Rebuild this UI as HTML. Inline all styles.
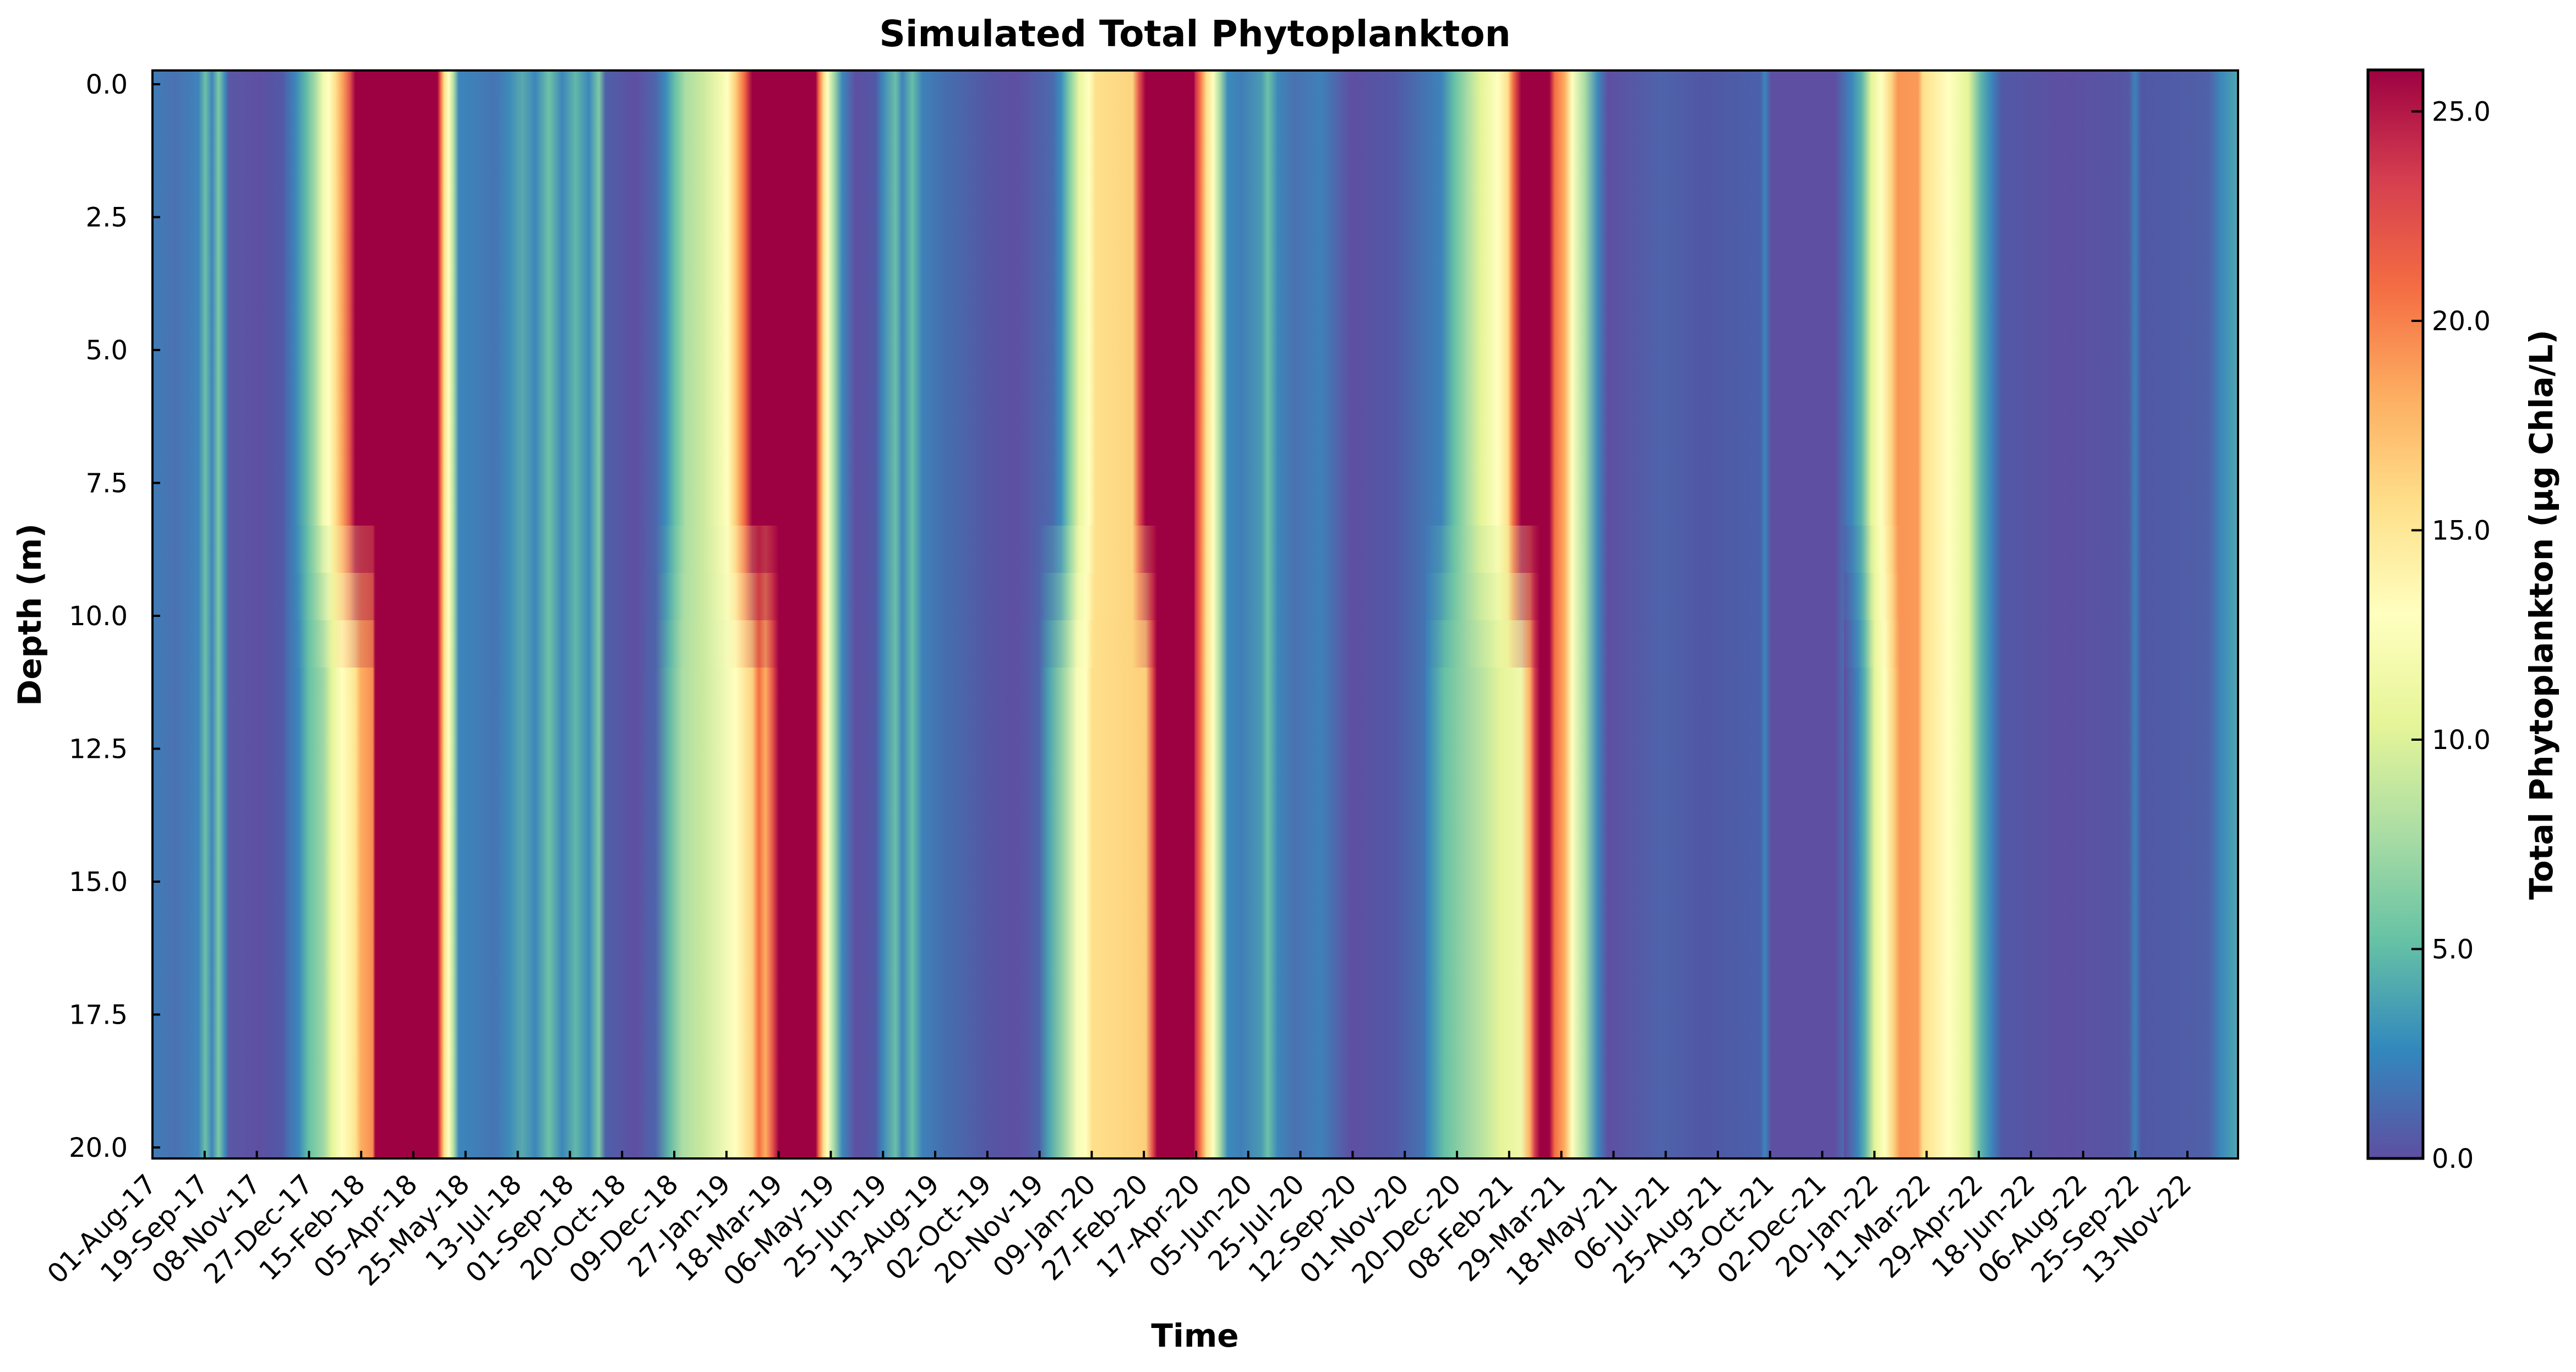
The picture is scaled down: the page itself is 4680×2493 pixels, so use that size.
<!DOCTYPE html>
<html><head><meta charset="utf-8">
<style>html,body{margin:0;padding:0;background:#fff;}svg{display:block;}text{font-family:"DejaVu Sans","Liberation Sans",sans-serif;fill:#000;}</style>
</head><body>
<svg width="4680" height="2493" viewBox="0 0 4680 2493" xmlns="http://www.w3.org/2000/svg">
<defs>
<linearGradient id="uL" gradientUnits="userSpaceOnUse" x1="270" y1="0" x2="2170" y2="0">
<stop offset="0" stop-color="#3d7eb8"/><stop offset="0.0255" stop-color="#4a72b2"/><stop offset="0.0478" stop-color="#3f84ba"/><stop offset="0.0542" stop-color="#6cc2a6"/><stop offset="0.0606" stop-color="#3f84ba"/><stop offset="0.067" stop-color="#7ccaa5"/><stop offset="0.0733" stop-color="#3a86bb"/><stop offset="0.0765" stop-color="#5a58a5"/><stop offset="0.1052" stop-color="#5e4fa2"/><stop offset="0.1276" stop-color="#5159a6"/><stop offset="0.1403" stop-color="#3b86bb"/><stop offset="0.1499" stop-color="#5eb7a9"/><stop offset="0.1594" stop-color="#a8dca3"/><stop offset="0.1671" stop-color="#f3faad"/><stop offset="0.1722" stop-color="#ffffbf"/><stop offset="0.1786" stop-color="#fee08b"/><stop offset="0.1862" stop-color="#fa9b58"/><stop offset="0.1926" stop-color="#e0504b"/><stop offset="0.1977" stop-color="#9e0142"/><stop offset="0.2761" stop-color="#9e0142"/><stop offset="0.2793" stop-color="#f46d43"/><stop offset="0.2825" stop-color="#fee08b"/><stop offset="0.287" stop-color="#ffffbf"/><stop offset="0.2915" stop-color="#b5e0a2"/><stop offset="0.2966" stop-color="#3b86bb"/><stop offset="0.3316" stop-color="#4675b3"/><stop offset="0.3444" stop-color="#3c8aba"/><stop offset="0.3571" stop-color="#5aa9ad"/><stop offset="0.3699" stop-color="#3b87bb"/><stop offset="0.3827" stop-color="#6ec3a6"/><stop offset="0.3954" stop-color="#3d85ba"/><stop offset="0.4082" stop-color="#62b8a8"/><stop offset="0.4209" stop-color="#3c87bb"/><stop offset="0.4305" stop-color="#7dcaa5"/><stop offset="0.4369" stop-color="#4e60a9"/><stop offset="0.4656" stop-color="#5e4fa2"/><stop offset="0.4847" stop-color="#4e66ac"/><stop offset="0.4943" stop-color="#3a8bbb"/><stop offset="0.5038" stop-color="#6bc3a6"/><stop offset="0.5134" stop-color="#abdda4"/><stop offset="0.5293" stop-color="#c9e99e"/><stop offset="0.5453" stop-color="#f0f8ad"/><stop offset="0.5536" stop-color="#ffffbf"/><stop offset="0.5612" stop-color="#fdcf7a"/><stop offset="0.5695" stop-color="#f46d43"/><stop offset="0.5772" stop-color="#9e0142"/><stop offset="0.6378" stop-color="#9e0142"/><stop offset="0.6409" stop-color="#f46d43"/><stop offset="0.6454" stop-color="#fee08b"/><stop offset="0.6492" stop-color="#ffffbf"/><stop offset="0.6556" stop-color="#a0d8a4"/><stop offset="0.6633" stop-color="#3b87bb"/><stop offset="0.676" stop-color="#5e4fa2"/><stop offset="0.6952" stop-color="#5159a6"/><stop offset="0.7015" stop-color="#3d85ba"/><stop offset="0.7143" stop-color="#6bbfa7"/><stop offset="0.7207" stop-color="#3e83b9"/><stop offset="0.7302" stop-color="#66bea7"/><stop offset="0.7398" stop-color="#3e82b9"/><stop offset="0.7589" stop-color="#4470b0"/><stop offset="0.8036" stop-color="#5556a4"/><stop offset="0.8291" stop-color="#5e4fa2"/><stop offset="0.8642" stop-color="#4b69ae"/><stop offset="0.8724" stop-color="#3a8dbb"/><stop offset="0.8801" stop-color="#7dcba5"/><stop offset="0.8897" stop-color="#e9f69f"/><stop offset="0.8992" stop-color="#ffffbf"/><stop offset="0.9056" stop-color="#fee08b"/><stop offset="0.9407" stop-color="#fdd480"/><stop offset="0.9471" stop-color="#e4524a"/><stop offset="0.9534" stop-color="#9e0142"/><stop offset="1" stop-color="#9e0142"/>
</linearGradient>
<linearGradient id="bL" gradientUnits="userSpaceOnUse" x1="270" y1="0" x2="2170" y2="0">
<stop offset="0" stop-color="#4e62aa"/><stop offset="0.0191" stop-color="#3f7cb8"/><stop offset="0.0383" stop-color="#5061a9"/><stop offset="0.0638" stop-color="#3f83ba"/><stop offset="0.0733" stop-color="#5ab3ab"/><stop offset="0.0797" stop-color="#3d84ba"/><stop offset="0.0861" stop-color="#5a55a4"/><stop offset="0.1212" stop-color="#5e4fa2"/><stop offset="0.1435" stop-color="#3a87bb"/><stop offset="0.1531" stop-color="#66c2a5"/><stop offset="0.1671" stop-color="#9fd7a5"/><stop offset="0.1754" stop-color="#e6f598"/><stop offset="0.185" stop-color="#ffffbf"/><stop offset="0.1977" stop-color="#fee590"/><stop offset="0.2028" stop-color="#fdae61"/><stop offset="0.2143" stop-color="#f88d52"/><stop offset="0.2168" stop-color="#9e0142"/><stop offset="0.273" stop-color="#9e0142"/><stop offset="0.2787" stop-color="#f46d43"/><stop offset="0.2851" stop-color="#fee08b"/><stop offset="0.2902" stop-color="#ffffbf"/><stop offset="0.2966" stop-color="#abdda4"/><stop offset="0.3048" stop-color="#3b86bb"/><stop offset="0.3571" stop-color="#4472b1"/><stop offset="0.4082" stop-color="#4c66ad"/><stop offset="0.4209" stop-color="#4b9ab3"/><stop offset="0.4337" stop-color="#4b64ab"/><stop offset="0.4464" stop-color="#5e4fa2"/><stop offset="0.4847" stop-color="#4e63ab"/><stop offset="0.4974" stop-color="#5fb6a8"/><stop offset="0.5102" stop-color="#abdda4"/><stop offset="0.5293" stop-color="#c9e99e"/><stop offset="0.5612" stop-color="#ffffbf"/><stop offset="0.5772" stop-color="#fdd380"/><stop offset="0.5835" stop-color="#f46d43"/><stop offset="0.5899" stop-color="#fdae61"/><stop offset="0.5963" stop-color="#e8584a"/><stop offset="0.6027" stop-color="#9e0142"/><stop offset="0.6390" stop-color="#9e0142"/><stop offset="0.6429" stop-color="#f46d43"/><stop offset="0.6467" stop-color="#fee08b"/><stop offset="0.6505" stop-color="#ffffbf"/><stop offset="0.6569" stop-color="#a6dba4"/><stop offset="0.6665" stop-color="#3b86bb"/><stop offset="0.7015" stop-color="#4473b1"/><stop offset="0.7526" stop-color="#4a6aae"/><stop offset="0.7972" stop-color="#5556a4"/><stop offset="0.8291" stop-color="#5e4fa2"/><stop offset="0.8514" stop-color="#4e64ab"/><stop offset="0.861" stop-color="#4ca5b0"/><stop offset="0.875" stop-color="#9ed6a5"/><stop offset="0.8878" stop-color="#f8fcb8"/><stop offset="0.8961" stop-color="#ffffbf"/><stop offset="0.9024" stop-color="#fee08b"/><stop offset="0.9534" stop-color="#fdd07c"/><stop offset="0.9598" stop-color="#e4524a"/><stop offset="0.9643" stop-color="#9e0142"/><stop offset="1" stop-color="#9e0142"/>
</linearGradient>
<linearGradient id="uR" gradientUnits="userSpaceOnUse" x1="2170" y1="0" x2="4070" y2="0">
<stop offset="0" stop-color="#c2214e"/><stop offset="0.0051" stop-color="#f46d43"/><stop offset="0.0115" stop-color="#fee08b"/><stop offset="0.0179" stop-color="#ffffbf"/><stop offset="0.0242" stop-color="#abdda4"/><stop offset="0.0319" stop-color="#3b8bbb"/><stop offset="0.0446" stop-color="#3f7eb8"/><stop offset="0.0638" stop-color="#4b9ab3"/><stop offset="0.0702" stop-color="#6cc2a6"/><stop offset="0.0797" stop-color="#3d87ba"/><stop offset="0.0957" stop-color="#4a72b1"/><stop offset="0.1212" stop-color="#3f80b8"/><stop offset="0.1499" stop-color="#5e4fa2"/><stop offset="0.1913" stop-color="#5258a6"/><stop offset="0.236" stop-color="#3d83b9"/><stop offset="0.2487" stop-color="#66c2a5"/><stop offset="0.2615" stop-color="#abdda4"/><stop offset="0.2742" stop-color="#e6f598"/><stop offset="0.2902" stop-color="#ffffbf"/><stop offset="0.2997" stop-color="#fee08b"/><stop offset="0.3048" stop-color="#f46d43"/><stop offset="0.3125" stop-color="#9e0142"/><stop offset="0.3393" stop-color="#9e0142"/><stop offset="0.3444" stop-color="#f46d43"/><stop offset="0.354" stop-color="#fdae61"/><stop offset="0.361" stop-color="#ffffbf"/><stop offset="0.3731" stop-color="#abdda4"/><stop offset="0.3858" stop-color="#3b87bb"/><stop offset="0.3954" stop-color="#5e4fa2"/><stop offset="0.4464" stop-color="#4e63ab"/><stop offset="0.4847" stop-color="#5157a5"/><stop offset="0.5408" stop-color="#4b60aa"/><stop offset="0.5453" stop-color="#3a86bb"/><stop offset="0.5517" stop-color="#5e4fa2"/><stop offset="0.6122" stop-color="#5e4fa2"/><stop offset="0.6282" stop-color="#3b86bb"/><stop offset="0.6378" stop-color="#5ab3ab"/><stop offset="0.6473" stop-color="#e6f598"/><stop offset="0.6569" stop-color="#ffffbf"/><stop offset="0.6665" stop-color="#fdd380"/><stop offset="0.6728" stop-color="#f99555"/><stop offset="0.6920" stop-color="#fa9a58"/><stop offset="0.6964" stop-color="#fee08b"/><stop offset="0.7207" stop-color="#ffffbf"/><stop offset="0.7398" stop-color="#e6f598"/><stop offset="0.7526" stop-color="#5ab3ab"/><stop offset="0.7621" stop-color="#3b86bb"/><stop offset="0.7717" stop-color="#5159a6"/><stop offset="0.8291" stop-color="#5e4fa2"/><stop offset="0.8929" stop-color="#5556a4"/><stop offset="0.8992" stop-color="#3d82b9"/><stop offset="0.9056" stop-color="#5058a6"/><stop offset="0.9694" stop-color="#5060a9"/><stop offset="0.9821" stop-color="#3c8aba"/><stop offset="1" stop-color="#53aaae"/>
</linearGradient>
<linearGradient id="bR" gradientUnits="userSpaceOnUse" x1="2170" y1="0" x2="4070" y2="0">
<stop offset="0" stop-color="#c2214e"/><stop offset="0.0064" stop-color="#f46d43"/><stop offset="0.0128" stop-color="#fee08b"/><stop offset="0.0179" stop-color="#ffffbf"/><stop offset="0.0255" stop-color="#66c2a5"/><stop offset="0.0383" stop-color="#3b86bb"/><stop offset="0.051" stop-color="#4a72b1"/><stop offset="0.0702" stop-color="#3d82b9"/><stop offset="0.0765" stop-color="#4e65ab"/><stop offset="0.1467" stop-color="#4c68ad"/><stop offset="0.1531" stop-color="#5e4fa2"/><stop offset="0.1913" stop-color="#5556a4"/><stop offset="0.2232" stop-color="#3b86bb"/><stop offset="0.2392" stop-color="#66c2a5"/><stop offset="0.2551" stop-color="#8fd0a4"/><stop offset="0.2742" stop-color="#b8e2a1"/><stop offset="0.2934" stop-color="#e6f598"/><stop offset="0.3125" stop-color="#f0f8ad"/><stop offset="0.3208" stop-color="#fdae61"/><stop offset="0.3253" stop-color="#d53e4f"/><stop offset="0.3304" stop-color="#9e0142"/><stop offset="0.338" stop-color="#9e0142"/><stop offset="0.3444" stop-color="#e8584a"/><stop offset="0.3508" stop-color="#fdae61"/><stop offset="0.3603" stop-color="#ffffbf"/><stop offset="0.3731" stop-color="#a0d8a4"/><stop offset="0.3858" stop-color="#3d82b9"/><stop offset="0.4018" stop-color="#5e4fa2"/><stop offset="0.4974" stop-color="#5258a6"/><stop offset="0.5485" stop-color="#5e4fa2"/><stop offset="0.6218" stop-color="#5e4fa2"/><stop offset="0.6346" stop-color="#3b86bb"/><stop offset="0.6410" stop-color="#5ab3ab"/><stop offset="0.6505" stop-color="#e6f598"/><stop offset="0.6601" stop-color="#ffffbf"/><stop offset="0.6684" stop-color="#fdd380"/><stop offset="0.6747" stop-color="#f99555"/><stop offset="0.6939" stop-color="#fa9a58"/><stop offset="0.6983" stop-color="#fee08b"/><stop offset="0.7207" stop-color="#ffffbf"/><stop offset="0.743" stop-color="#f0f8ad"/><stop offset="0.7526" stop-color="#5ab3ab"/><stop offset="0.7621" stop-color="#3b86bb"/><stop offset="0.7717" stop-color="#5159a6"/><stop offset="0.8291" stop-color="#5e4fa2"/><stop offset="0.8960" stop-color="#5359a6"/><stop offset="0.8992" stop-color="#3d82b9"/><stop offset="0.9056" stop-color="#5556a4"/><stop offset="0.9758" stop-color="#4e64ab"/><stop offset="0.9885" stop-color="#3a86bb"/><stop offset="1" stop-color="#4a9db2"/>
</linearGradient>
<linearGradient id="cb" x1="0" y1="0" x2="0" y2="1">
<stop offset="0" stop-color="#9e0142"/><stop offset="0.1" stop-color="#d53e4f"/><stop offset="0.2" stop-color="#f46d43"/><stop offset="0.3" stop-color="#fdae61"/><stop offset="0.4" stop-color="#fee08b"/><stop offset="0.5" stop-color="#ffffbf"/><stop offset="0.6" stop-color="#e6f598"/><stop offset="0.7" stop-color="#abdda4"/><stop offset="0.8" stop-color="#66c2a5"/><stop offset="0.9" stop-color="#3288bd"/><stop offset="1" stop-color="#5e4fa2"/>
</linearGradient>
<clipPath id="blooms">
<rect x="530" y="0" width="170" height="2500"/>
<rect x="1175" y="0" width="265" height="2500"/>
<rect x="1875" y="0" width="235" height="2500"/>
<rect x="2590" y="0" width="210" height="2500"/>
<rect x="3350" y="0" width="120" height="2500"/>
</clipPath>
</defs>

<!-- heatmap -->
<rect x="277" y="128" width="1894" height="1977" fill="url(#uL)"/>
<rect x="2170" y="128" width="1896" height="1977" fill="url(#uR)"/>
<g clip-path="url(#blooms)">
<rect x="277" y="955" width="1894" height="86" fill="url(#bL)" opacity="0.3"/>
<rect x="2170" y="955" width="1896" height="86" fill="url(#bR)" opacity="0.3"/>
<rect x="277" y="1041" width="1894" height="86" fill="url(#bL)" opacity="0.55"/>
<rect x="2170" y="1041" width="1896" height="86" fill="url(#bR)" opacity="0.55"/>
<rect x="277" y="1127" width="1894" height="86" fill="url(#bL)" opacity="0.8"/>
<rect x="2170" y="1127" width="1896" height="86" fill="url(#bR)" opacity="0.8"/>
<rect x="277" y="1213" width="1894" height="892" fill="url(#bL)"/>
<rect x="2170" y="1213" width="1896" height="892" fill="url(#bR)"/>
</g>
<rect x="277" y="128" width="3789" height="1977" fill="none" stroke="#000" stroke-width="4"/>

<!-- y ticks -->
<g stroke="#000" stroke-width="4">
<line x1="277" y1="153" x2="291" y2="153"/><line x1="277" y1="394.5" x2="291" y2="394.5"/><line x1="277" y1="636" x2="291" y2="636"/><line x1="277" y1="877.5" x2="291" y2="877.5"/><line x1="277" y1="1119" x2="291" y2="1119"/><line x1="277" y1="1360.5" x2="291" y2="1360.5"/><line x1="277" y1="1602" x2="291" y2="1602"/><line x1="277" y1="1843.5" x2="291" y2="1843.5"/><line x1="277" y1="2085" x2="291" y2="2085"/>
</g>
<g font-size="48" text-anchor="end">
<text x="232" y="170">0.0</text><text x="232" y="411.5">2.5</text><text x="232" y="653">5.0</text><text x="232" y="894.5">7.5</text><text x="232" y="1136">10.0</text><text x="232" y="1377.5">12.5</text><text x="232" y="1619">15.0</text><text x="232" y="1860.5">17.5</text><text x="232" y="2102">20.0</text>
</g>

<!-- x ticks -->
<g stroke="#000" stroke-width="4">
<path d="M277 2105v-14M371.8 2105v-14M466.6 2105v-14M561.4 2105v-14M656.2 2105v-14M751 2105v-14M845.8 2105v-14M940.6 2105v-14M1035.4 2105v-14M1130.2 2105v-14M1225 2105v-14M1319.8 2105v-14M1414.6 2105v-14M1509.4 2105v-14M1604.2 2105v-14M1699 2105v-14M1793.8 2105v-14M1888.6 2105v-14M1983.4 2105v-14M2078.2 2105v-14M2173 2105v-14M2267.8 2105v-14M2362.6 2105v-14M2457.4 2105v-14M2552.2 2105v-14M2647 2105v-14M2741.8 2105v-14M2836.6 2105v-14M2931.4 2105v-14M3026.2 2105v-14M3121 2105v-14M3215.8 2105v-14M3310.6 2105v-14M3405.4 2105v-14M3500.2 2105v-14M3595 2105v-14M3689.8 2105v-14M3784.6 2105v-14M3879.4 2105v-14M3974 2105v-14"/>
</g>
<g font-size="49" text-anchor="end">
<text transform="translate(287,2155) rotate(-45)">01-Aug-17</text>
<text transform="translate(381.8,2155) rotate(-45)">19-Sep-17</text>
<text transform="translate(476.6,2155) rotate(-45)">08-Nov-17</text>
<text transform="translate(571.4,2155) rotate(-45)">27-Dec-17</text>
<text transform="translate(666.2,2155) rotate(-45)">15-Feb-18</text>
<text transform="translate(761,2155) rotate(-45)">05-Apr-18</text>
<text transform="translate(855.8,2155) rotate(-45)">25-May-18</text>
<text transform="translate(950.6,2155) rotate(-45)">13-Jul-18</text>
<text transform="translate(1045.4,2155) rotate(-45)">01-Sep-18</text>
<text transform="translate(1140.2,2155) rotate(-45)">20-Oct-18</text>
<text transform="translate(1235,2155) rotate(-45)">09-Dec-18</text>
<text transform="translate(1329.8,2155) rotate(-45)">27-Jan-19</text>
<text transform="translate(1424.6,2155) rotate(-45)">18-Mar-19</text>
<text transform="translate(1519.4,2155) rotate(-45)">06-May-19</text>
<text transform="translate(1614.2,2155) rotate(-45)">25-Jun-19</text>
<text transform="translate(1709,2155) rotate(-45)">13-Aug-19</text>
<text transform="translate(1803.8,2155) rotate(-45)">02-Oct-19</text>
<text transform="translate(1898.6,2155) rotate(-45)">20-Nov-19</text>
<text transform="translate(1993.4,2155) rotate(-45)">09-Jan-20</text>
<text transform="translate(2088.2,2155) rotate(-45)">27-Feb-20</text>
<text transform="translate(2183,2155) rotate(-45)">17-Apr-20</text>
<text transform="translate(2277.8,2155) rotate(-45)">05-Jun-20</text>
<text transform="translate(2372.6,2155) rotate(-45)">25-Jul-20</text>
<text transform="translate(2467.4,2155) rotate(-45)">12-Sep-20</text>
<text transform="translate(2562.2,2155) rotate(-45)">01-Nov-20</text>
<text transform="translate(2657,2155) rotate(-45)">20-Dec-20</text>
<text transform="translate(2751.8,2155) rotate(-45)">08-Feb-21</text>
<text transform="translate(2846.6,2155) rotate(-45)">29-Mar-21</text>
<text transform="translate(2941.4,2155) rotate(-45)">18-May-21</text>
<text transform="translate(3036.2,2155) rotate(-45)">06-Jul-21</text>
<text transform="translate(3131,2155) rotate(-45)">25-Aug-21</text>
<text transform="translate(3225.8,2155) rotate(-45)">13-Oct-21</text>
<text transform="translate(3320.6,2155) rotate(-45)">02-Dec-21</text>
<text transform="translate(3415.4,2155) rotate(-45)">20-Jan-22</text>
<text transform="translate(3510.2,2155) rotate(-45)">11-Mar-22</text>
<text transform="translate(3605,2155) rotate(-45)">29-Apr-22</text>
<text transform="translate(3699.8,2155) rotate(-45)">18-Jun-22</text>
<text transform="translate(3794.6,2155) rotate(-45)">06-Aug-22</text>
<text transform="translate(3889.4,2155) rotate(-45)">25-Sep-22</text>
<text transform="translate(3984,2155) rotate(-45)">13-Nov-22</text>
</g>

<!-- titles -->
<text x="2171" y="84" font-size="66" font-weight="bold" text-anchor="middle">Simulated Total Phytoplankton</text>
<text x="2171" y="2447" font-size="58" font-weight="bold" text-anchor="middle">Time</text>
<text transform="translate(74,1117) rotate(-90)" font-size="58" font-weight="bold" text-anchor="middle">Depth (m)</text>

<!-- colorbar -->
<rect x="4302" y="127" width="100" height="1978" fill="url(#cb)" stroke="#000" stroke-width="5"/>
<g stroke="#000" stroke-width="4">
<line x1="4381" y1="2105" x2="4402" y2="2105"/><line x1="4381" y1="1724.5" x2="4402" y2="1724.5"/><line x1="4381" y1="1344" x2="4402" y2="1344"/><line x1="4381" y1="963.5" x2="4402" y2="963.5"/><line x1="4381" y1="583" x2="4402" y2="583"/><line x1="4381" y1="202.5" x2="4402" y2="202.5"/>
</g>
<g font-size="48">
<text x="4418" y="2122">0.0</text><text x="4418" y="1741.5">5.0</text><text x="4418" y="1361">10.0</text><text x="4418" y="980.5">15.0</text><text x="4418" y="600">20.0</text><text x="4418" y="219.5">25.0</text>
</g>
<text transform="translate(4637,1117) rotate(-90)" font-size="58" font-weight="bold" text-anchor="middle">Total Phytoplankton (µg Chla/L)</text>
</svg>
</body></html>
